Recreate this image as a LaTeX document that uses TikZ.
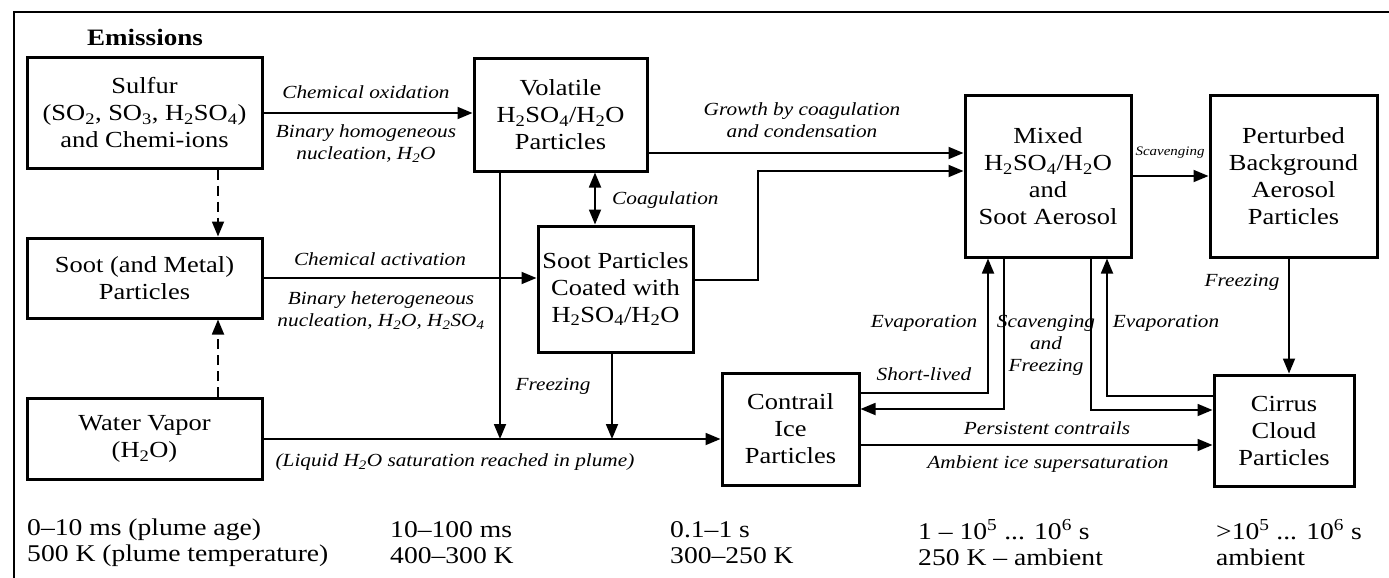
\documentclass[tikz,border=0pt]{standalone}
\usepackage{fontspec}
\setmainfont{Liberation Serif}[FakeStretch=1.15]
\usepackage{tikz}
\usetikzlibrary{arrows.meta}

\newcommand{\lo}[1]{\textsubscript{#1}}
\newcommand{\hi}[1]{\textsuperscript{#1}}

\tikzset{
    box/.style={draw, line width=3pt, align=center, inner sep=0pt,
        font=\fontsize{23}{27}\selectfont},
    lbl/.style={align=center, inner sep=0pt,
        font=\fontsize{18.5}{22}\selectfont\itshape},
    arr/.style={line width=1.8pt, -{Triangle[length=15pt,width=12pt]}},
    dasharr/.style={arr, dash pattern=on 10pt off 6pt},
    timetext/.style={anchor=west, align=left, inner sep=0pt,
        font=\fontsize{24}{26}\selectfont}
}

\begin{document}
\begin{tikzpicture}[x=1pt,y=-1pt]
        \useasboundingbox (0,0) rectangle (1389,578);
        \draw[line width=2.4pt] (14,578) -- (14,12) -- (1389,12);

        \node[font=\fontsize{23.5}{27}\selectfont\bfseries] (emis) at (145,37) {Emissions};

        \node[box, minimum width=235pt, minimum height=110pt] (sulfur) at (144.5,113)
            {Sulfur\\(SO\lo{2}, SO\lo{3}, H\lo{2}SO\lo{4})\\and Chemi-ions};
        \node[box, minimum width=235pt, minimum height=80pt] (sootm) at (144.5,278)
            {Soot (and Metal)\\Particles};
        \node[box, minimum width=235pt, minimum height=81pt] (water) at (144.5,439)
            {Water Vapor\\(H\lo{2}O)};
        \node[box, minimum width=173pt, minimum height=112pt] (volatile) at (560.5,115)
            {Volatile\\H\lo{2}SO\lo{4}/H\lo{2}O\\Particles};
        \node[box, minimum width=155pt, minimum height=126pt] (coated) at (615.5,289)
            {Soot Particles\\Coated with\\H\lo{2}SO\lo{4}/H\lo{2}O};
        \node[box, minimum width=137pt, minimum height=112pt] (contrail) at (790.5,429)
            {Contrail\\Ice\\Particles};
        \node[box, minimum width=166pt, minimum height=162pt] (mixed) at (1048,176)
            {Mixed\\H\lo{2}SO\lo{4}/H\lo{2}O\\and\\Soot Aerosol};
        \node[box, minimum width=167pt, minimum height=162pt] (perturbed) at (1293.5,176)
            {Perturbed\\Background\\Aerosol\\Particles};
        \node[box, minimum width=140pt, minimum height=111pt] (cirrus) at (1284,430.5)
            {Cirrus\\Cloud\\Particles};

        \draw[arr] (sulfur.east) -- (sulfur.east -| volatile.west);
        \draw[dasharr] ([xshift=73.5pt]sulfur.south) -- ([xshift=73.5pt]sootm.north);
        \draw[dasharr] ([xshift=73.5pt]water.north) -- ([xshift=73.5pt]sootm.south);
        \draw[arr] (sootm.east) -- (sootm.east -| coated.west);
        \draw[arr, {Triangle[length=15pt,width=12pt]}-{Triangle[length=15pt,width=12pt]}]
            (volatile.south -| 595,0) -- (coated.north -| 595,0);
        \draw[arr] (volatile.east |- 0,153) -- (mixed.west |- 0,153);
        \draw[arr] (coated.east |- 0,280) -| (758,171) -- (mixed.west |- 0,171);
        \draw[arr] (water.east) -- (water.east -| contrail.west);
        \draw[arr] (volatile.south -| 500,0) -- (water.east -| 500,0);
        \draw[arr] (coated.south -| 612,0) -- (water.east -| 612,0);
        \draw[arr] (mixed.east |- 0,176) -- (perturbed.west |- 0,176);
        \draw[arr] (perturbed.south -| 1289,0) -- (cirrus.north -| 1289,0);
        \draw[arr] (contrail.east |- 0,393) -| (mixed.south -| 988,0);
        \draw[arr] (mixed.south -| 1004,0) |- (contrail.east |- 0,409);
        \draw[arr] (mixed.south -| 1091,0) |- (cirrus.west |- 0,410);
        \draw[arr] (cirrus.west |- 0,396) -| (mixed.south -| 1107,0);
        \draw[arr] (contrail.east |- 0,445) -- (cirrus.west |- 0,445);

        \node[lbl] (oxid) at (366,92) {Chemical oxidation};
        \node[lbl] (homog) at (366,144) {Binary homogeneous\\nucleation, H\lo{2}O};
        \node[lbl] (growth) at (802,120) {Growth by coagulation\\and condensation};
        \node[lbl, anchor=west] (coag) at (612,200) {Coagulation};
        \node[lbl] (activ) at (380,259) {Chemical activation};
        \node[lbl] (heterog) at (381,311) {Binary heterogeneous\\nucleation, H\lo{2}O, H\lo{2}SO\lo{4}};
        \node[lbl] (liquid) at (455,462) {(Liquid H\lo{2}O saturation reached in plume)};
        \node[lbl] (freezea) at (553,386) {Freezing};
        \node[lbl] (evapa) at (924,323) {Evaporation};
        \node[lbl] (short) at (924,374) {Short-lived};
        \node[lbl] (scavfrz) at (1046,345) {Scavenging\\and\\Freezing};
        \node[lbl] (evapb) at (1166,323) {Evaporation};
        \node[lbl] (freezeb) at (1242,282) {Freezing};
        \node[lbl, font=\fontsize{13}{15}\selectfont\itshape] (scav) at (1170,153) {Scavenging};
        \node[lbl] (persist) at (1047,428) {Persistent contrails};
        \node[lbl] (ambient) at (1048,464) {Ambient ice supersaturation};

        \node[timetext] (tA) at (27,543) {0--10 ms (plume age)\\500 K (plume temperature)};
        \node[timetext] (tB) at (390,543) {10--100 ms\\400--300 K};
        \node[timetext] (tC) at (670,543) {0.1--1 s\\300--250 K};
        \node[timetext] (tD) at (918,543) {1 -- 10\hi{5} ... 10\hi{6} s\\250 K -- ambient};
        \node[timetext] (tE) at (1216,543) {>10\hi{5} ... 10\hi{6} s\\ambient};
\end{tikzpicture}
\end{document}
